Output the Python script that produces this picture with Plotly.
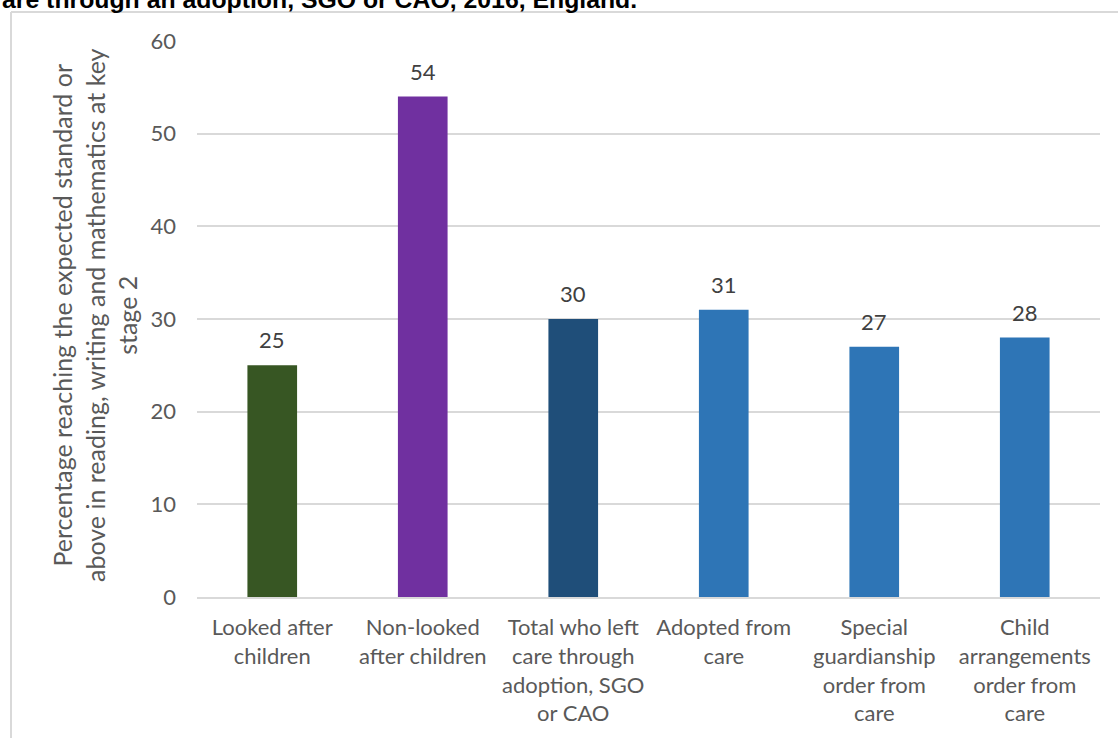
import plotly.graph_objects as go

categories = [
    "Looked after<br>children",
    "Non-looked<br>after children",
    "Total who left<br>care through<br>adoption, SGO<br>or CAO",
    "Adopted from<br>care",
    "Special<br>guardianship<br>order from<br>care",
    "Child<br>arrangements<br>order from<br>care",
]
values = [25, 54, 30, 31, 27, 28]
bar_colors = ["#375623", "#7030A0", "#1F4E79", "#2E75B6", "#2E75B6", "#2E75B6"]
y_ticks = [0, 10, 20, 30, 40, 50, 60]
y_title = ("Percentage reaching the expected standard or<br>"
           "above in reading, writing and mathematics at key<br>stage 2")
title_text = "are through an adoption, SGO or CAO, 2016, England."

W, H = 1118, 738
L, R, T, B = 197, 1100, 41, 597

def px(x):
    return (x - L) / (R - L)

def py(y):
    return (B - y) / (B - T)

FONT = "Lato"
TXT = "#595959"

fig = go.Figure()
fig.add_trace(go.Bar(
    x=categories, y=values, marker_color=bar_colors, width=0.33,
    marker_line_width=0, hoverinfo="skip",
))

annotations = []
for c, v in zip(categories, values):
    annotations.append(dict(
        x=c, y=v, xref="x", yref="y", text=str(v), showarrow=False,
        yanchor="bottom", yshift=10,
        font=dict(family=FONT, size=22, color="#404040"),
    ))
annotations.append(dict(
    x=px(94), y=py(315), xref="paper", yref="paper", text=y_title,
    showarrow=False, textangle=-90, xanchor="center", yanchor="middle",
    font=dict(family=FONT, size=25, color=TXT),
))
annotations.append(dict(
    x=px(0), y=py(15), xref="paper", yref="paper", text="<b>" + title_text + "</b>",
    showarrow=False, xanchor="left", yanchor="bottom",
    font=dict(family="Liberation Sans, Arial", size=24.8, color="#000000"),
))

shapes = [
    dict(type="line", xref="paper", yref="paper", x0=px(11), x1=px(11),
         y0=py(12), y1=py(740), line=dict(color="#D9D9D9", width=2)),
    dict(type="line", xref="paper", yref="paper", x0=px(11), x1=px(1120),
         y0=py(12), y1=py(12), line=dict(color="#D9D9D9", width=2)),
]

fig.update_layout(
    width=W, height=H,
    margin=dict(l=L, r=W - R, t=T, b=H - B, autoexpand=False),
    paper_bgcolor="white", plot_bgcolor="white",
    showlegend=False,
    annotations=annotations,
    shapes=shapes,
    font=dict(family=FONT, color=TXT),
)
fig.update_yaxes(
    range=[0, 60], tickvals=y_ticks, showgrid=True, gridcolor="#D9D9D9",
    gridwidth=1.5, zeroline=False, showline=False,
    tickfont=dict(family=FONT, size=22, color=TXT), ticklabelstandoff=20,
)
fig.update_xaxes(
    range=[-0.5, 5.5], showline=True, linecolor="#D9D9D9", linewidth=2,
    tickfont=dict(family=FONT, size=22, color=TXT), ticks="",
    ticklabelstandoff=10,
)

fig.write_html(
    "out.html",
    config={"displayModeBar": False},
    post_script="document.body.style.margin='0';document.body.style.padding='0';",
)
